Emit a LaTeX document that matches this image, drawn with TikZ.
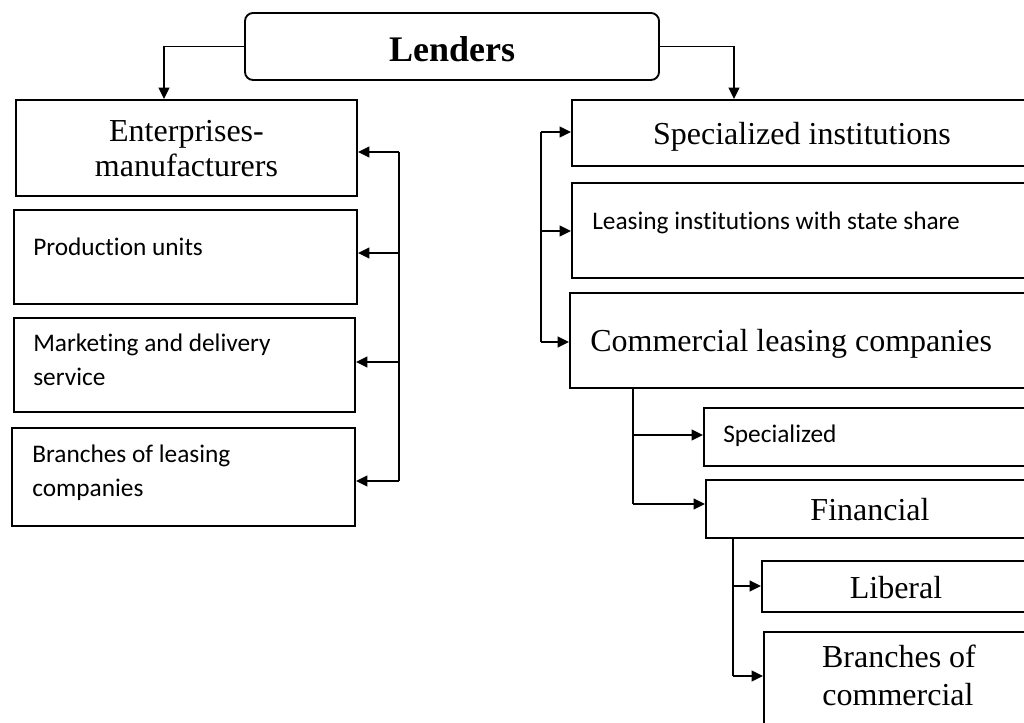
\documentclass[tikz,border=0pt]{standalone}
\usepackage{fontspec}
\setmainfont{Liberation Serif}
\newfontfamily\calfont[Ligatures=NoCommon]{Carlito}
\usetikzlibrary{fit,arrows.meta}
\begin{document}
\begin{tikzpicture}[x=0.75pt,y=-0.75pt,
 box/.style={draw, line width=1.4pt, inner sep=0pt},
 conn/.style={line width=1.4pt},
 arr/.style={conn, -{Triangle[length=8.5pt,width=8pt]}},
 sertext/.style={font=\fontsize{24}{26}\selectfont, inner sep=0pt, anchor=base},
 serleft/.style={font=\fontsize{24}{26}\selectfont, inner sep=0pt, anchor=base west},
 santext/.style={font=\calfont\fontsize{19}{22}\selectfont, inner sep=0pt, anchor=base west},
]
\useasboundingbox (0,0) rectangle (1024,723);
\clip (0,0) rectangle (1024,723);
\fill[white] (0,0) rectangle (1024,723);

% boxes
\node[box, rounded corners=6pt, fit={(245,13) (659,80)}] (lenders) {};
\node[box, fit={(16,100) (357,196)}] (ent) {};
\node[box, fit={(14,210) (357,304)}] (prod) {};
\node[box, fit={(14,318) (355,412)}] (mark) {};
\node[box, fit={(12,428) (355,526)}] (lbr) {};
\node[box, fit={(572,100) (1045,166)}] (spec) {};
\node[box, fit={(572,183) (1045,278)}] (state) {};
\node[box, fit={(570,293) (1045,388)}] (com) {};
\node[box, fit={(704,408) (1045,466)}] (spz) {};
\node[box, fit={(706,480) (1045,538)}] (fin) {};
\node[box, fit={(762,561) (1045,612)}] (lib) {};
\node[box, fit={(764,632) (1045,745)}] (cbr) {};

% texts
\node[font=\bfseries\fontsize{27}{30}\selectfont, inner sep=0pt, anchor=base] (tlen) at (452,62) {Lenders};
\node[sertext] (tent1) at (186.5,142) {Enterprises-};
\node[sertext] (tent2) at (186.5,177) {manufacturers};
\node[santext] (tprod) at (33,256) {Production units};
\node[santext] (tmark1) at (33,352) {Marketing and delivery};
\node[santext] (tmark2) at (33,386) {service};
\node[santext] (tlbr1) at (32,462) {Branches of leasing};
\node[santext] (tlbr2) at (32,496) {companies};
\node[sertext] (tspec) at (802,145) {Specialized institutions};
\node[santext] (tstate) at (592,230) {Leasing institutions with state share};
\node[serleft] (tcom) at (590,352) {Commercial leasing companies};
\node[santext] (tspz) at (723,442) {Specialized};
\node[sertext] (tfin) at (870,520) {Financial};
\node[sertext] (tlib) at (896,598) {Liberal};
\node[sertext] (tcbr1) at (899,667) {Branches of};
\node[sertext] (tcbr2) at (898,705) {commercial};

% connectors from Lenders
\coordinate (lx) at (164,0);
\coordinate (rx) at (734,0);
\draw[arr] (lenders.west) -| (lx |- ent.north);
\draw[arr] (lenders.east) -| (rx |- spec.north);

% left bus
\coordinate (lb1) at (399,152);
\coordinate (lb2) at (399,253);
\coordinate (lb3) at (399,362);
\coordinate (lb4) at (399,481);
\draw[conn] (lb1) -- (lb4);
\draw[arr] (lb1) -- (lb1 -| ent.east);
\draw[arr] (lb2) -- (lb2 -| prod.east);
\draw[arr] (lb3) -- (lb3 -| mark.east);
\draw[arr] (lb4) -- (lb4 -| lbr.east);

% right bus
\coordinate (rb1) at (541,132);
\coordinate (rb2) at (541,231);
\coordinate (rb3) at (541,342);
\draw[conn] (rb1) -- (rb3);
\draw[arr] (rb1) -- (rb1 -| spec.west);
\draw[arr] (rb2) -- (rb2 -| state.west);
\draw[arr] (rb3) -- (rb3 -| com.west);

% commercial bus
\coordinate (cb1) at (633,435);
\coordinate (cb2) at (633,504);
\draw[conn] (cb1 |- com.south) -- (cb2);
\draw[arr] (cb1) -- (cb1 -| spz.west);
\draw[arr] (cb2) -- (cb2 -| fin.west);

% financial bus
\coordinate (fb1) at (733,586);
\coordinate (fb2) at (733,676);
\draw[conn] (fb1 |- fin.south) -- (fb2);
\draw[arr] (fb1) -- (fb1 -| lib.west);
\draw[arr] (fb2) -- (fb2 -| cbr.west);
\end{tikzpicture}
\end{document}
